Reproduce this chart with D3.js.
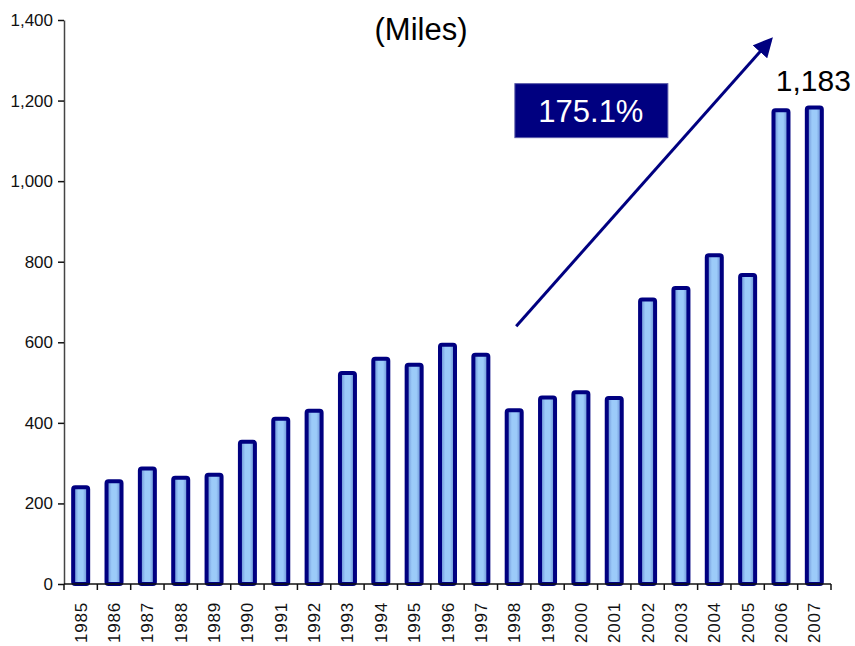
<!DOCTYPE html>
<html lang="en">
<head>
    <meta charset="UTF-8">
    <script src="https://d3js.org/d3.v7.min.js"></script>
    <title>Miles</title>
    <style>
        body { margin: 0; background: #fff; }
        text { font-family: Arial, "Liberation Sans", sans-serif; }
    </style>
</head>
<body>
    <svg id="milesChart" width="855" height="646"></svg>
    <script>
        // Data
        const years = ["1985", "1986", "1987", "1988", "1989", "1990", "1991", "1992", "1993", "1994", "1995", "1996",
            "1997", "1998", "1999", "2000", "2001", "2002", "2003", "2004", "2005", "2006", "2007"];
        const miles = [240, 255, 287, 264, 271, 353, 410, 430, 524, 559, 544, 594,
            569, 431, 463, 476, 462, 706, 735, 816, 767, 1176, 1183];
        const yTicks = [0, 200, 400, 600, 800, 1000, 1200, 1400];
        const growthLabel = "175.1%";
        const lastLabel = "1,183";
        const unitLabel = "(Miles)";

        const svg = d3.select("svg#milesChart");
        const margin = { top: 20, right: 24, bottom: 62, left: 64 };
        const width = +svg.attr("width");
        const height = +svg.attr("height");
        const chartWidth = width - margin.left - margin.right;
        const chartHeight = height - margin.top - margin.bottom;

        // gradient for the bars (darker edges, light middle)
        const defs = svg.append("defs");
        const grad = defs.append("linearGradient").attr("id", "barFill")
            .attr("x1", "0%").attr("x2", "100%").attr("y1", "0%").attr("y2", "0%");
        grad.append("stop").attr("offset", "0%").attr("stop-color", "#5f82cc");
        grad.append("stop").attr("offset", "35%").attr("stop-color", "#9ccbf9");
        grad.append("stop").attr("offset", "65%").attr("stop-color", "#9ccbf9");
        grad.append("stop").attr("offset", "100%").attr("stop-color", "#5f82cc");

        const marker = defs.append("marker").attr("id", "arrowHead")
            .attr("viewBox", "0 0 10 10").attr("refX", 8).attr("refY", 5)
            .attr("markerWidth", 6.5).attr("markerHeight", 6.5)
            .attr("markerUnits", "strokeWidth").attr("orient", "auto");
        marker.append("path").attr("d", "M0,0 L10,5 L0,10 Z").attr("fill", "#000080");

        const chart = svg.append("g")
            .attr("transform", `translate(${margin.left},${margin.top})`);

        const x = d3.scaleBand().domain(years).range([0, chartWidth]);
        const y = d3.scaleLinear().domain([0, 1400]).range([chartHeight, 0]);

        // y axis
        const yAxis = chart.append("g").attr("class", "y axis")
            .call(d3.axisLeft(y).tickValues(yTicks).tickSize(6).tickSizeOuter(0)
                .tickFormat(d3.format(",")));
        yAxis.select(".domain").attr("stroke", "#444").attr("stroke-width", 1.5);
        yAxis.selectAll(".tick line").attr("stroke", "#111").attr("stroke-width", 1.5);
        yAxis.selectAll("text").attr("font-size", "17px").attr("fill", "#111").attr("x", -11);

        // bars
        const barW = 15;
        chart.selectAll("rect.bar").data(years)
            .join("rect")
            .attr("class", "bar")
            .attr("x", (d) => x(d) + x.bandwidth() / 2 - barW / 2)
            .attr("y", (d, i) => y(miles[i]))
            .attr("width", barW)
            .attr("height", (d, i) => chartHeight - y(miles[i]))
            .attr("rx", 2)
            .attr("fill", "url(#barFill)")
            .attr("stroke", "#000080")
            .attr("stroke-width", 4);

        // x axis with ticks between categories
        const xAxisG = chart.append("g").attr("class", "x axis")
            .attr("transform", `translate(0,${chartHeight})`);
        xAxisG.append("line")
            .attr("x1", 0).attr("x2", chartWidth)
            .attr("stroke", "#111").attr("stroke-width", 1.5);
        xAxisG.selectAll("line.sep").data(years.concat(["end"]))
            .join("line")
            .attr("class", "sep")
            .attr("x1", (d, i) => i < years.length ? x(d) : chartWidth)
            .attr("x2", (d, i) => i < years.length ? x(d) : chartWidth)
            .attr("y1", 0).attr("y2", 6)
            .attr("stroke", "#111").attr("stroke-width", 1.5);
        xAxisG.selectAll("text").data(years)
            .join("text")
            .attr("transform", (d) => `translate(${x(d) + x.bandwidth() / 2 + 6},${18}) rotate(-90)`)
            .attr("text-anchor", "end")
            .attr("font-size", "17px")
            .attr("letter-spacing", "0.8px")
            .attr("fill", "#111")
            .text((d) => d);

        // growth arrow
        chart.append("line")
            .attr("x1", x("1998") + x.bandwidth() / 2 + 2)
            .attr("y1", y(640))
            .attr("x2", x("2006") + 6)
            .attr("y2", y(1350))
            .attr("stroke", "#000080").attr("stroke-width", 3)
            .attr("marker-end", "url(#arrowHead)");

        // growth box
        const boxX = x("1999") - 16, boxY = y(1242);
        chart.append("rect")
            .attr("x", boxX).attr("y", boxY)
            .attr("width", 153).attr("height", 54)
            .attr("fill", "#000080")
            .attr("stroke", "#5a5aa8").attr("stroke-width", 1);
        chart.append("text")
            .attr("x", boxX + 76).attr("y", boxY + 38)
            .attr("text-anchor", "middle")
            .attr("font-size", "31px")
            .attr("fill", "#fff")
            .text(growthLabel);

        // value label for last bar
        chart.append("text")
            .attr("x", x("2007") + x.bandwidth() / 2 - 1)
            .attr("y", y(1183) - 16)
            .attr("text-anchor", "middle")
            .attr("font-size", "30px")
            .attr("fill", "#000")
            .text(lastLabel);

        // unit title
        svg.append("text")
            .attr("x", 421).attr("y", 40)
            .attr("text-anchor", "middle")
            .attr("font-size", "31px")
            .attr("fill", "#000")
            .text(unitLabel);
    </script>
</body>
</html>
